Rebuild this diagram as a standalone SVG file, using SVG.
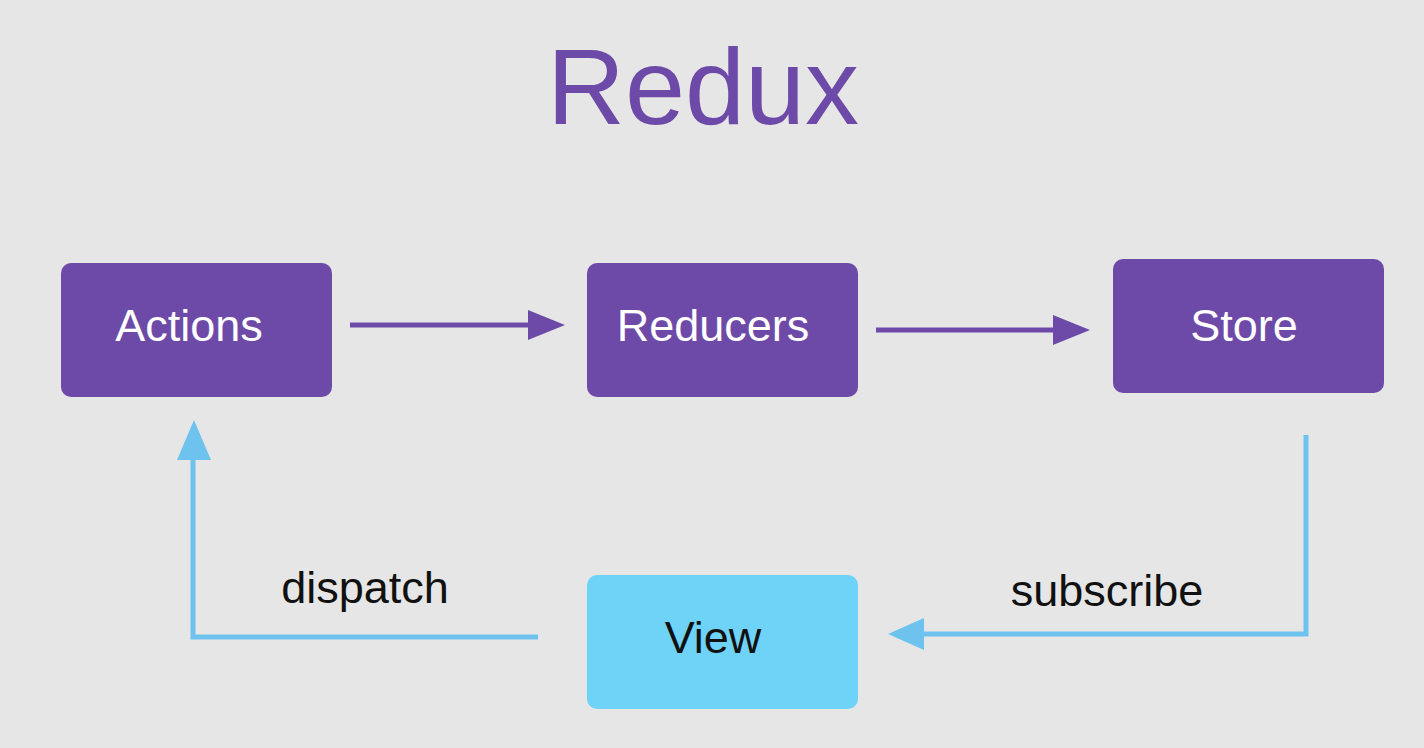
<svg xmlns="http://www.w3.org/2000/svg" width="1424" height="748" viewBox="0 0 1424 748">
<style>
.box{fill:#6e4aa8}
.t{font-family:"Liberation Sans",Arial,sans-serif;font-size:45px;text-anchor:middle}
.w{fill:#fff}
.p{stroke:#6e4aa8;stroke-width:5;fill:none}
.b{stroke:#6ec2ee;stroke-width:5;fill:none}
</style>
<rect width="1424" height="748" fill="#e6e6e6"/>
<text x="703" y="124" class="t" style="font-size:108px" fill="#6e4aa8">Redux</text>
<g id="actions"><rect class="box" x="61" y="263" width="271" height="134" rx="10"/><text class="t w" x="189" y="341">Actions</text></g>
<g id="reducers"><rect class="box" x="587" y="263" width="271" height="134" rx="10"/><text class="t w" x="713" y="341">Reducers</text></g>
<g id="store"><rect class="box" x="1113" y="259" width="271" height="134" rx="10"/><text class="t w" x="1244" y="341">Store</text></g>
<g id="view"><rect x="587" y="575" width="271" height="134" rx="10" fill="#6fd3f7"/><text class="t" x="713" y="653" fill="#111">View</text></g>
<g id="connectors">
<path class="p" d="M350 325H532"/><path d="M528 310L565 325L528 340Z" fill="#6e4aa8"/>
<path class="p" d="M876 330H1057"/><path d="M1053 315L1090 330L1053 345Z" fill="#6e4aa8"/>
<path class="b" d="M1306 435V634H920"/><path d="M924 618L888 634L924 650Z" fill="#6ec2ee"/>
<path class="b" d="M538 637H193V455"/><path d="M177 460L194 420L211 460Z" fill="#6ec2ee"/>
<text class="t" x="365" y="603" fill="#111">dispatch</text>
<text class="t" x="1107" y="606" fill="#111">subscribe</text>
</g>
</svg>
